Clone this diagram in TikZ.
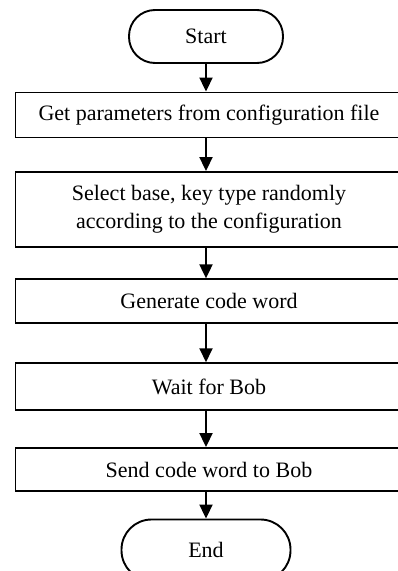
\documentclass[tikz,border=0pt]{standalone}
\usepackage{fontspec}
\setmainfont{Liberation Serif}
\usepackage{tikz}
\usetikzlibrary{arrows.meta,positioning,calc}
\tikzset{
  term/.style={rectangle, rounded corners=26pt, draw=black, line width=1.9pt,
    minimum width=154pt, minimum height=53pt, align=center,
    font=\fontsize{22}{28}\selectfont},
  procbox/.style={rectangle, draw=black, line width=1.9pt,
    minimum width=387pt, minimum height=45pt, align=center, inner sep=0pt,
    font=\fontsize{22}{28}\selectfont},
  flow/.style={-{Triangle[length=14pt, width=13pt]}, line width=1.9pt, black},
}

\begin{document}
\begin{tikzpicture}[x=1pt, y=-1pt]
\useasboundingbox (0,0) rectangle (398,571);

\def\xm{206}  % Achse der Pfeile
\def\xb{209}  % Mitte der Kaesten

% ── Start / Ende ───────────────────────────────────────────────────────────
\node[term] (start) at (\xm, 36.5) {Start};

% ── Ablauf ─────────────────────────────────────────────────────────────────
\node[procbox] (params) at (\xb, 115) {Get parameters from configuration file};
\node[procbox, minimum height=75pt] (select) at (\xb, 209.5)
  {Select base, key type randomly\\according to the configuration};
\node[procbox, minimum height=44pt] (gen) at (\xb, 301.3) {Generate code word};
\node[procbox, minimum height=47pt] (wait) at (\xb, 386.7) {Wait for Bob};
\node[procbox, minimum height=43pt] (send) at (\xb, 469.5) {Send code word to Bob};

\node[term, minimum width=169pt, minimum height=61pt, rounded corners=30pt]
  (stop) at (\xm, 550) {End};

% ── Pfeile ─────────────────────────────────────────────────────────────────
\draw[flow] (start.south) -- (start.south |- params.north);
\draw[flow] (start.south |- params.south) -- (start.south |- select.north);
\draw[flow] (start.south |- select.south) -- (start.south |- gen.north);
\draw[flow] (start.south |- gen.south) -- (start.south |- wait.north);
\draw[flow] (start.south |- wait.south) -- (start.south |- send.north);
\draw[flow] (start.south |- send.south) -- (stop.north);

\end{tikzpicture}
\end{document}
